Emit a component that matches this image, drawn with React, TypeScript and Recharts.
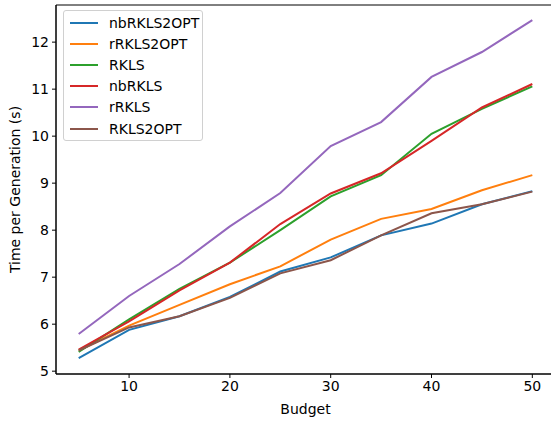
import React from 'react';
import { LineChart, Line, XAxis, YAxis, ReferenceArea } from 'recharts';

const budgets = [5, 10, 15, 20, 25, 30, 35, 40, 45, 50];
const nbRKLS2OPT = [5.28, 5.88, 6.17, 6.58, 7.12, 7.42, 7.89, 8.14, 8.55, 8.83];
const rRKLS2OPT = [5.44, 5.97, 6.41, 6.85, 7.23, 7.8, 8.24, 8.45, 8.85, 9.17];
const RKLS = [5.41, 6.1, 6.75, 7.31, 8.0, 8.72, 9.17, 10.05, 10.58, 11.06];
const nbRKLS = [5.46, 6.06, 6.72, 7.31, 8.13, 8.78, 9.21, 9.9, 10.61, 11.11];
const rRKLS = [5.79, 6.6, 7.28, 8.08, 8.79, 9.79, 10.3, 11.26, 11.79, 12.47];
const RKLS2OPT = [5.44, 5.93, 6.17, 6.56, 7.08, 7.36, 7.89, 8.36, 8.55, 8.82];

const xTicks = [10, 20, 30, 40, 50];
const yTicks = [5, 6, 7, 8, 9, 10, 11, 12];

const series = [
  { key: 'nbRKLS2OPT', values: nbRKLS2OPT, color: '#1f77b4' },
  { key: 'rRKLS2OPT', values: rRKLS2OPT, color: '#ff7f0e' },
  { key: 'RKLS', values: RKLS, color: '#2ca02c' },
  { key: 'nbRKLS', values: nbRKLS, color: '#d62728' },
  { key: 'rRKLS', values: rRKLS, color: '#9467bd' },
  { key: 'RKLS2OPT', values: RKLS2OPT, color: '#8c564b' },
];

const data = budgets.map((b, i) => {
  const row: Record<string, number> = { budget: b };
  series.forEach((s) => {
    row[s.key] = s.values[i];
  });
  return row;
});

const font = 'DejaVu Sans';
const X_DOMAIN: [number, number] = [2.75, 52.25];
const Y_DOMAIN: [number, number] = [4.94, 12.79];

function LegendBox() {
  return (
    <div
      style={{
        position: 'absolute',
        left: 63,
        top: 10,
        width: 140,
        height: 131,
        boxSizing: 'border-box',
        border: '1px solid #d0d0d0',
        borderRadius: 3,
        background: 'rgba(255,255,255,0.8)',
        padding: '1px 0 0 6px',
        fontFamily: font,
        fontSize: 14,
      }}
    >
      {series.map((s) => (
        <div key={s.key} style={{ display: 'flex', alignItems: 'center', height: 21.2 }}>
          <div style={{ width: 28, height: 2, background: s.color, marginRight: 11 }} />
          <span style={{ color: '#000' }}>{s.key}</span>
        </div>
      ))}
    </div>
  );
}

export default function App() {
  return (
    <div
      style={{
        position: 'absolute',
        left: 0,
        top: 0,
        width: 551,
        height: 421,
        overflow: 'hidden',
        background: '#fff',
      }}
    >
      {/* plot frame runs a few px past the right edge, as in the source image */}
      <LineChart width={556} height={421} data={data} margin={{ top: 5, right: 1, bottom: 0, left: 0 }}>
        <XAxis
          dataKey="budget"
          type="number"
          domain={X_DOMAIN}
          ticks={xTicks}
          allowDataOverflow
          height={47}
          tickSize={4}
          tickMargin={3}
          stroke="#000"
          tick={{ fill: '#000', fontFamily: font, fontSize: 14 }}
          label={{ value: 'Budget', position: 'center', dy: 12, fill: '#000', fontFamily: font, fontSize: 14 }}
        />
        <YAxis
          type="number"
          domain={Y_DOMAIN}
          ticks={yTicks}
          allowDataOverflow
          width={56}
          tickSize={4}
          tickMargin={3}
          stroke="#000"
          tick={{ fill: '#000', fontFamily: font, fontSize: 14 }}
          label={{
            value: 'Time per Generation (s)',
            angle: -90,
            position: 'center',
            dx: -13,
            fill: '#000',
            fontFamily: font,
            fontSize: 14,
          }}
        />
        <ReferenceArea
          x1={X_DOMAIN[0]}
          x2={X_DOMAIN[1]}
          y1={Y_DOMAIN[0]}
          y2={Y_DOMAIN[1]}
          fill="none"
          stroke="#000"
          strokeWidth={1}
          ifOverflow="visible"
        />
        {series.map((s) => (
          <Line
            key={s.key}
            dataKey={s.key}
            stroke={s.color}
            strokeWidth={2}
            dot={false}
            isAnimationActive={false}
          />
        ))}
      </LineChart>
      <LegendBox />
    </div>
  );
}
